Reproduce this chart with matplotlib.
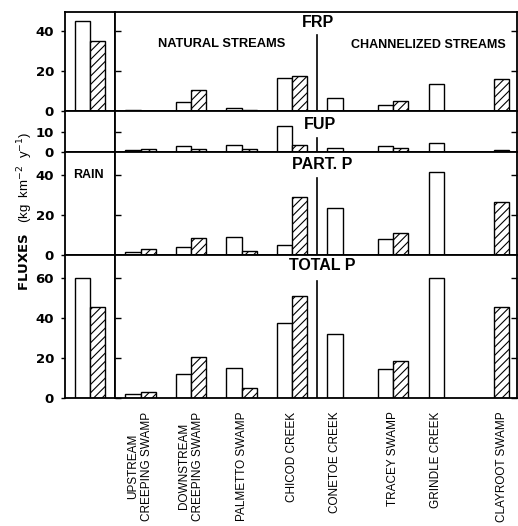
import matplotlib
matplotlib.use('Agg')
import matplotlib.pyplot as plt
import numpy as np

plt.rcParams['font.family'] = ['Liberation Sans', 'DejaVu Sans']
plt.rcParams['hatch.linewidth'] = 0.8

sites = ["UPSTREAM\nCREEPING SWAMP", "DOWNSTREAM\nCREEPING SWAMP", "PALMETTO SWAMP",
         "CHICOD CREEK", "CONETOE CREEK", "TRACEY SWAMP", "GRINDLE CREEK", "CLAYROOT SWAMP"]
panels = ["FRP", "FUP", "PART. P", "TOTAL P"]

# open bars and hatched bars for each panel (None = no bar)
frp_open = [0.5, 4.8, 1.7, 16.7, 6.5, 3.2, 13.7, None]
frp_hatch = [0.4, 10.5, 0.8, 17.5, None, 5.2, None, 16.2]
fup_open = [1.0, 3.0, 3.5, 13.0, 2.0, 3.0, 4.6, None]
fup_hatch = [1.5, 1.5, 1.6, 3.8, None, 2.0, None, 1.3]
part_open = [1.3, 4.1, 8.9, 5.0, 23.3, 8.1, 41.3, None]
part_hatch = [2.8, 8.6, 2.1, 29.0, None, 10.9, None, 26.4]
total_open = [2.1, 12.0, 14.9, 37.5, 31.8, 14.4, 60.0, None]
total_hatch = [3.3, 20.7, 4.9, 51.0, None, 18.4, None, 45.5]
rain_open = [45.0, None, None, 60.0]
rain_hatch = [35.0, None, None, 45.6]

y_max = [49.5, 20.5, 51.0, 71.5]
y_ticks = [[0, 20, 40], [0, 10], [0, 20, 40], [0, 20, 40, 60]]

open_vals = [frp_open, fup_open, part_open, total_open]
hatch_vals = [frp_hatch, fup_hatch, part_hatch, total_hatch]

# layout
title_pos = [(3.51, 44.5), (3.55, 13.8), (3.6, 45.0), (3.6, 66.0)]
divider_top = [0.77, 0.35, 0.75, 0.82]
bw = 0.3
lw_sp = 1.3

W, H = 518, 526
fig = plt.figure(figsize=(W / 100, H / 100), dpi=100)
gs = fig.add_gridspec(4, 2, width_ratios=[50, 402], height_ratios=y_max,
                      left=65 / W, right=517 / W, top=1 - 12 / H, bottom=1 - 398.3 / H,
                      hspace=0, wspace=0)

x = np.arange(len(sites))
tick_pos = []
for i in range(len(sites)):
    p = []
    if total_open[i] is not None:
        p.append(x[i] - bw / 2)
    if total_hatch[i] is not None:
        p.append(x[i] + bw / 2)
    tick_pos.append(np.mean(p))

for r in range(4):
    axr = fig.add_subplot(gs[r, 0])
    axm = fig.add_subplot(gs[r, 1])
    for ax in (axr, axm):
        for s in ax.spines.values():
            s.set_linewidth(lw_sp)
        ax.set_ylim(0, y_max[r])
    # rain panel
    axr.set_xlim(-0.5, 0.5)
    if rain_open[r] is not None:
        axr.bar(-bw / 2, rain_open[r], bw, facecolor='white', edgecolor='black', lw=1.0)
    if rain_hatch[r] is not None:
        axr.bar(bw / 2, rain_hatch[r], bw, facecolor='white', edgecolor='black', lw=1.0,
                hatch='////')
    axr.set_xticks([])
    axr.set_yticks(y_ticks[r])
    axr.set_yticklabels([str(t) for t in y_ticks[r]], fontweight='bold', fontsize=9.5,
                        family='DejaVu Sans')
    axr.tick_params(axis='y', direction='out', length=3, width=1.0, pad=5)
    # main panel
    axm.set_xlim(-0.505, 7.45)
    for i in range(len(sites)):
        if open_vals[r][i] is not None:
            axm.bar(x[i] - bw / 2, open_vals[r][i], bw, facecolor='white',
                    edgecolor='black', lw=1.0)
        if hatch_vals[r][i] is not None:
            axm.bar(x[i] + bw / 2, hatch_vals[r][i], bw, facecolor='white',
                    edgecolor='black', lw=1.0, hatch='////')
    axm.set_yticks(y_ticks[r])
    axm.tick_params(axis='y', which='both', left=True, right=True, direction='in',
                    labelleft=False, length=4, width=1.0)
    axm.axvline(3.5, 0, divider_top[r], color='black', lw=1.2)
    axm.text(title_pos[r][0], title_pos[r][1], panels[r], ha='center', va='center',
             fontsize=11.5, fontweight='bold')
    if r == 3:
        axm.set_xticks(tick_pos)
        axm.set_xticklabels(sites, rotation=90, ha='center', va='top', fontsize=8.5,
                            linespacing=1.2)
        axm.tick_params(axis='x', length=0, pad=9.5)
    else:
        axm.set_xticks([])
    if r == 0:
        axm.text(1.61, 33.5, "NATURAL STREAMS", ha='center', va='center',
                 fontsize=9.3, fontweight='bold')
        axm.text(5.69, 33.0, "CHANNELIZED STREAMS", ha='center', va='center',
                 fontsize=9.0, fontweight='bold')
    if r == 2:
        axr.text(-0.03, 40, "RAIN", ha='center', va='center', fontsize=9,
                 fontweight='bold')

fig.text(25 / W, 1 - 211 / H, r"$\bf{FLUXES}$   (kg  km$^{-2}$  y$^{-1}$)", rotation=90,
         ha='center', va='center', fontsize=9.5)

fig.savefig('out.png', dpi=100)
